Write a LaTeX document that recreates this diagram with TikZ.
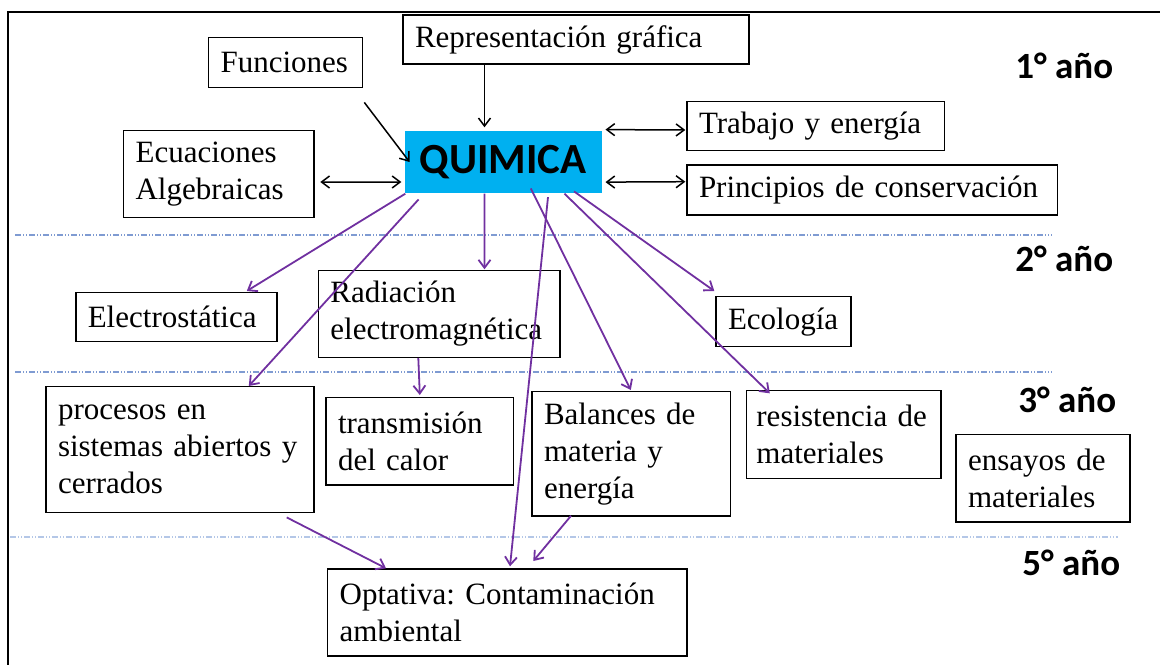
\documentclass[tikz,border=0pt]{standalone}
\usepackage{fontspec}
\setmainfont{Liberation Serif}
\newfontfamily\calfont{Carlito}
\usetikzlibrary{arrows.meta}
\definecolor{qblue}{HTML}{00B0F0}
\definecolor{lila}{HTML}{7030A0}
\definecolor{sepa}{HTML}{7F9BD2}
\definecolor{sepb}{HTML}{B4C7E7}
\hfuzz=10pt
\frenchspacing

\begin{document}
\begin{tikzpicture}[
  x=0.5pt, y=-0.5pt,
  every node/.style={font=\fontsize{15.5}{18.5}\selectfont},
  tema/.style={rectangle, draw=black, line width=0.7pt, align=left, inner xsep=6pt, inner ysep=0pt},
  centro/.style={rectangle, fill=qblue, inner sep=0pt, font=\calfont\bfseries\fontsize{21.5}{26}\selectfont, minimum width=98.8pt, minimum height=31.3pt},
  anio/.style={anchor=base west, inner sep=0pt, font=\calfont\bfseries\fontsize{18.5}{22}\selectfont},
  flecha/.style={line width=0.75pt, -{Straight Barb[length=4pt,width=6pt]}},
  doble/.style={line width=0.75pt, {Straight Barb[length=4pt,width=6pt]}-{Straight Barb[length=4pt,width=6pt]}},
  lazo/.style={flecha, draw=lila, line width=0.9pt},
  corte/.style={line width=0.6pt, dash pattern=on 3pt off 1pt on 0.5pt off 1pt on 0.5pt off 1pt}
]
  \useasboundingbox (0,0) rectangle (1160,664);
  \draw[line width=1pt] (8,700) |- (1200,11.5);

  % separadores de año
  \draw[corte, draw=sepa] (15,235) -- (1052,235);
  \draw[corte, draw=sepa] (15,372) -- (1052,372);
  \draw[corte, draw=sepb] (10,537) -- (1118,537);

  \node[anio] (a1) at (1015,78) {1° año};
  \node[anio] (a2) at (1015,271.7) {2° año};
  \node[anio] (a3) at (1018,412.7) {3° año};
  \node[anio] (a5) at (1022,575) {5° año};

  % primer año
  \node[centro] (quim) at (503.3,162) {QUIMICA};
  \node[tema, text width=64.9pt, minimum height=25pt] (fun) at (285.5,62.7) {Funciones};
  \node[tema, text width=160.9pt, minimum height=24.5pt] (rep) at (575.9,39.5) {Representación gráfica};
  \node[tema, text width=83.1pt, minimum height=43.5pt] (ecu) at (218.7,174.2) {Ecuaciones\\Algebraicas};
  \node[tema, text width=116.8pt, minimum height=24.5pt] (trab) at (815.8,126.2) {Trabajo y energía};
  \node[tema, text width=173.3pt, minimum height=25pt] (prin) at (872.3,190) {Principios de conservación};

  % segundo año
  \node[tema, text width=88.5pt, minimum height=24.5pt] (elec) at (176.3,317.2) {Electrostática};
  \node[tema, text width=108.8pt, minimum height=43.3pt] (rad) at (439.2,314) {Radiación\\electromagnética};
  \node[tema, text width=55.5pt, minimum height=25pt] (ecol) at (783.5,321.7) {Ecología};

  % tercer año
  \node[tema, text width=121.9pt, minimum height=62.8pt] (proc) at (179.9,449.5) {procesos en\\sistemas abiertos y\\cerrados};
  \node[tema, text width=81.6pt, minimum height=43.9pt] (trans) at (419.6,441.2) {transmisión\\del calor};
  \node[tema, text width=87.2pt, minimum height=62.2pt] (bal) at (631.2,453.9) {Balances de\\materia y\\energía};
  \node[tema, inner xsep=5pt, text width=87.2pt, minimum height=43.8pt] (res) at (843.6,434.5) {resistencia de\\materiales};
  \node[tema, text width=75pt, minimum height=43.9pt] (ens) at (1043,478.2) {ensayos de\\materiales};

  % quinto año
  \node[tema, text width=167.7pt, minimum height=43.4pt] (opt) at (507.4,612.4) {Optativa: Contaminación\\ambiental};

  % relaciones de primer año
  \draw[flecha] ([shift={(1.2,14)}]fun.south east) -- ([shift={(5.5,0)}]quim.west);
  \draw[flecha] ([shift={(-91.4,0)}]rep.south) -- ([shift={(-18.8,-3)}]quim.north);
  \draw[doble] ([shift={(5.8,7.8)}]ecu.east) -- ([shift={(-2.7,20)}]quim.west);
  \draw[doble] ([shift={(3,-0.7)}]quim.north east) -- ([shift={(-1,3.8)}]trab.west);
  \draw[doble] ([shift={(3,-11.6)}]quim.south east) -- ([shift={(-1,-8.3)}]prin.west);

  % QUIMICA hacia los otros años
  \draw[lazo] ([shift={(1.2,0)}]quim.south west) -- ([shift={(70.5,-1)}]elec.north);
  \draw[lazo] ([shift={(14.5,5.7)}]quim.south west) -- ([shift={(68.9,0)}]proc.north);
  \draw[lazo] ([shift={(-18.8,0)}]quim.south) -- ([shift={(45.3,-0.7)}]rad.north);
  \draw[lazo] ([shift={(27.5,-5.3)}]quim.south) -- ([shift={(-0.4,-1)}]bal.north);
  \draw[lazo] ([shift={(44.7,3.4)}]quim.south) -- ([shift={(2.6,-2)}]opt.north);
  \draw[lazo] ([shift={(61.2,0)}]quim.south) -- ([shift={(24.1,3.3)}]res.north west);
  \draw[lazo] ([shift={(70.7,-2.3)}]quim.south) -- ([shift={(-1,-5)}]ecol.north west);

  \draw[lazo] ([shift={(-20.9,0)}]rad.south) -- ([shift={(0.2,-1.6)}]trans.north);
  \draw[lazo] ([shift={(106.8,4.4)}]proc.south) -- ([shift={(59,0)}]opt.north west);
  \draw[lazo] ([shift={(-60.2,-1)}]bal.south) -- ([shift={(25.9,-7.3)}]opt.north);
\end{tikzpicture}
\end{document}
